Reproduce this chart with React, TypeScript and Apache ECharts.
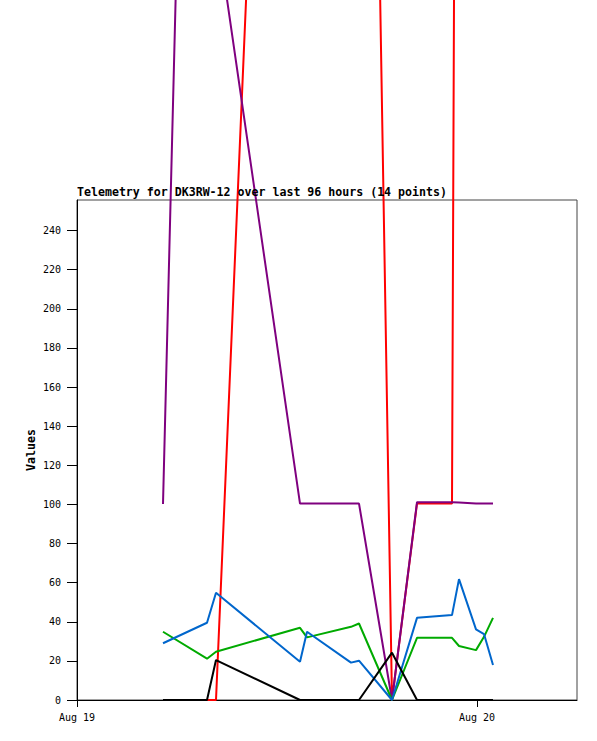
import React, { useEffect, useRef } from "react";
import * as echarts from "echarts";

// hours since Aug 19 00:00
const hours = [5.16, 7.8, 8.34, 13.38, 13.8, 16.44, 16.92, 18.9, 20.4, 22.5, 22.92, 23.94, 24.42, 24.96];
const redValues = [0, 0, 0, 1000, 1000, 1000, 1000, 0, 100.4, 100.4, 1000, 1000, 1000, 1000];
const purpleValues = [100.2, 1000, 397, 100.4, 100.4, 100.4, 100.4, 0, 101.1, 101.1, 101.0, 100.4, 100.4, 100.4];
const greenValues = [34.9, 21.1, 24.7, 36.9, 32.0, 37.4, 39.1, 0, 31.8, 31.8, 27.6, 25.5, 32.3, 42.0];
const blueValues = [29.0, 39.5, 54.8, 19.6, 34.9, 19.1, 20.1, 0, 42.0, 43.4, 61.8, 36.1, 33.7, 17.9];
const blackValues = [0, 0, 20.4, 0, 0, 0, 0, 24.2, 0, 0, 0, 0, 0, 0];

const yTicks = [0, 20, 40, 60, 80, 100, 120, 140, 160, 180, 200, 220, 240];
const xTicks = [0, 24];
const xTickLabels: Record<number, string> = { 0: "Aug 19", 24: "Aug 20" };
const titleText = "Telemetry for DK3RW-12 over last 96 hours (14 points)";

const MONO = "'DejaVu Sans Mono', 'Liberation Mono', monospace";

function pairs(vals: number[]) {
  return hours.map((h, i) => [h, vals[i]]);
}

export default function App() {
  const ref = useRef<HTMLDivElement>(null);
  useEffect(() => {
    if (!ref.current) return;
    const chart = echarts.init(ref.current, undefined, { renderer: "svg" });
    const mk = (name: string, vals: number[], color: string) => ({
      name,
      type: "line",
      data: pairs(vals),
      showSymbol: false,
      symbol: "none",
      clip: false,
      lineStyle: { color, width: 2 },
      itemStyle: { color },
    });
    chart.setOption({
      animation: false,
      backgroundColor: "#fff",
      title: {
        text: titleText,
        left: 77,
        top: 186,
        padding: 0,
        textStyle: { fontFamily: MONO, fontSize: 11.6, fontWeight: "bold", color: "#000" },
      },
      grid: {
        left: 77,
        top: 200,
        width: 500,
        height: 500,
        show: true,
        borderColor: "#444",
        borderWidth: 1,
        backgroundColor: "transparent",
      },
      xAxis: {
        type: "value",
        min: 0,
        max: 30,
        interval: 24,
        splitLine: { show: false },
        axisLine: { show: true, lineStyle: { color: "#000", width: 1 } },
        axisTick: { show: true, length: 7, lineStyle: { color: "#000" }, customValues: xTicks },
        axisLabel: {
          customValues: xTicks,
          formatter: (v: number) => xTickLabels[v] ?? "",
          fontFamily: MONO,
          fontSize: 10,
          color: "#000",
          margin: 12,
        },
      },
      yAxis: {
        type: "value",
        min: 0,
        max: 255.6,
        interval: 20,
        name: "Values",
        nameLocation: "middle",
        nameGap: 40,
        nameRotate: 90,
        nameMoveOverlap: false,
        nameTextStyle: { fontFamily: MONO, fontSize: 11.6, fontWeight: "bold", color: "#000" },
        splitLine: { show: false },
        axisLine: { show: true, lineStyle: { color: "#000", width: 1 } },
        axisTick: { show: true, length: 10, lineStyle: { color: "#000" }, customValues: yTicks },
        axisLabel: {
          customValues: yTicks,
          fontFamily: MONO,
          fontSize: 10,
          color: "#000",
          margin: 16,
        },
      },
      series: [
        mk("red", redValues, "#ff0000"),
        mk("purple", purpleValues, "#7f007f"),
        mk("green", greenValues, "#00aa00"),
        mk("blue", blueValues, "#0066cc"),
        mk("black", blackValues, "#000000"),
      ],
    });
    return () => chart.dispose();
  }, []);
  return (
    <div
      ref={ref}
      style={{ position: "fixed", left: 0, top: 0, width: 597, height: 741, background: "#fff" }}
    />
  );
}
